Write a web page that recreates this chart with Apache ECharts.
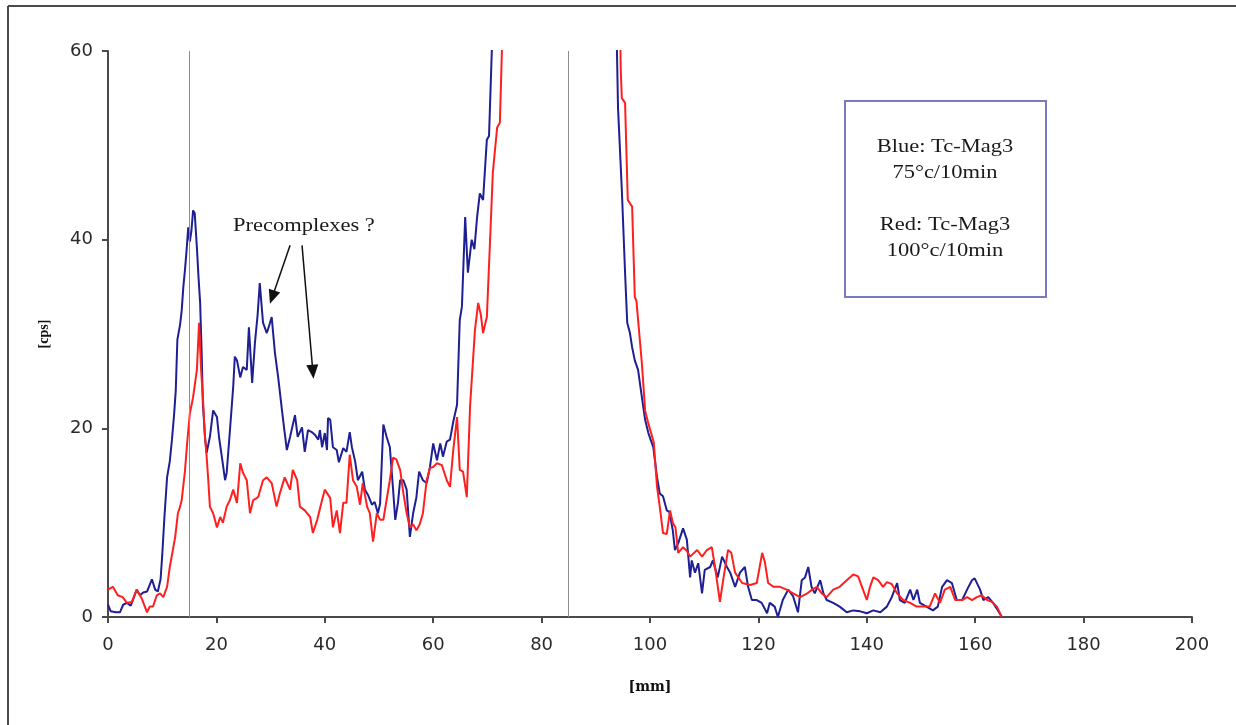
<!DOCTYPE html>
<html>
<head>
<meta charset="utf-8">
<title>Tc-Mag3 radio-TLC scan</title>
<script src="https://cdn.jsdelivr.net/npm/echarts@6/dist/echarts.min.js"></script>
<style>
  html, body { margin: 0; padding: 0; background: #ffffff; }
  #chart { width: 1236px; height: 725px; }
</style>
</head>
<body>
<div id="chart"></div>
<script>
// Axis settings
const xTicks = { min: 0, max: 200, step: 20 };
const yTicks = { min: 0, max: 60, step: 20 };
const xTitle = '[mm]';
const yTitle = '[cps]';

// Reference positions on the strip (mm)
const markerPositions = [15, 85];

// Activity profile, 75°C / 10 min labelling ([mm, cps]; '-' = off scale, above 60 cps)
const blueTrace = [
  [0,1.3],[0.5,0.6],[1.5,0.5],[2.2,0.5],[2.8,1.3],[3.5,1.5],[4.2,1.2],[5.3,2.9],[5.9,2.3],[6.5,2.6],
  [7.2,2.7],[8.1,4.0],[8.7,2.9],[9.2,2.7],[9.7,4.0],[10.0,6.5],[10.4,10.5],[10.9,14.8],[11.4,16.5],[11.8,18.8],
  [12.2,21.5],[12.5,24],[12.8,29.4],[13.3,31],[13.6,32.5],[13.9,35],[14.2,36.8],[14.5,38.9],[14.8,41.3],[15.1,39.8],
  [15.4,41],[15.7,43.1],[16.0,42.8],[16.4,39.2],[16.7,36],[17.0,33.3],[17.3,27.6],[17.5,22.7],[17.9,19],[18.2,17.4],
  [18.8,19.1],[19.4,21.9],[19.7,21.9],[20.1,21.2],[20.5,19],[21.0,17],[21.6,14.5],[21.9,15.3],[22.5,19.8],[23.1,24.4],
  [23.4,27.6],[23.8,27.2],[24.4,25.4],[24.9,26.5],[25.6,26.2],[26.0,30.7],[26.6,24.8],[27.1,29],[27.6,32],[28.0,35.4],
  [28.6,31.2],[29.3,30.1],[29.8,31],[30.2,31.8],[30.8,28],[31.4,25.4],[32.1,21.9],[32.5,20],[33.0,17.7],[33.6,19.1],
  [34.5,21.4],[35.0,19.1],[35.8,20.1],[36.3,17.5],[36.9,19.8],[37.6,19.6],[38.2,19.3],[38.8,18.8],[39.1,19.8],[39.5,18],
  [40.0,19.5],[40.4,17.7],[40.6,21.1],[41.0,20.9],[41.5,18],[42.2,17.7],[42.6,16.4],[43.4,17.9],[44.0,17.5],[44.6,19.6],
  [45.0,18],[45.6,16.5],[46.1,14.5],[46.9,15.4],[47.4,13.5],[48.0,12.9],[48.7,11.9],[49.2,12.2],[49.8,11],[50.2,12],
  [50.8,20.4],[51.4,19.1],[52.0,18],[52.6,13.5],[53.0,10.3],[53.5,12.1],[53.9,14.5],[54.5,14.5],[55.1,13.5],[55.7,8.5],
  [56.3,11],[56.9,12.7],[57.4,15.4],[58.1,14.5],[58.8,14.2],[59.4,15.9],[60.0,18.4],[60.7,16.6],[61.3,18.4],[61.8,17],
  [62.5,18.6],[63.1,18.8],[63.7,20.7],[64.4,22.5],[64.9,31.5],[65.3,32.9],[65.9,42.4],[66.4,36.5],[67.1,40],[67.6,39],
  [68.1,42.4],[68.6,44.9],[69.2,44.2],[69.9,50.6],[70.3,51],[70.8,59.8],[71.2,66],[71.5,'-'],
  [93.5,'-'],[93.7,66],[93.9,60],[94.1,54],[94.8,45.3],[95.4,36.5],[95.8,31.2],[96.3,30.1],[96.7,28.6],[97.2,27.2],
  [97.8,26.2],[98.5,23.3],[99.1,20.9],[99.7,19.5],[100.6,18],[101.3,14.8],[101.8,13.1],[102.4,12.8],[103.1,11.3],[103.6,11.1],
  [104.2,9.2],[104.6,7.1],[105.2,7.8],[106.1,9.4],[106.8,8.2],[107.4,4.2],[107.7,6],[108.3,4.7],[108.9,5.7],[109.6,2.5],
  [110.1,5],[111.1,5.3],[111.6,6],[112.5,4.2],[113.3,6.4],[114.2,5.3],[114.8,4.7],[115.7,3.2],[116.6,4.7],[117.5,5.3],
  [118.1,3.2],[118.8,1.8],[119.7,1.8],[120.6,1.5],[121.6,0.4],[122.1,1.5],[123.0,1.1],[123.6,0],[124.5,1.8],[125.5,2.9],
  [126.4,2.2],[127.3,0.5],[128.0,3.9],[128.6,4.2],[129.2,5.3],[129.8,3.2],[130.4,2.5],[131.4,3.9],[132.0,2.5],[132.6,1.8],
  [133.8,1.5],[135.0,1.1],[136.3,0.5],[137.5,0.7],[138.8,0.6],[140.0,0.4],[141.2,0.7],[142.5,0.5],[143.7,1.1],[144.6,2.1],
  [145.6,3.6],[146.1,1.8],[147.0,1.5],[148.0,2.9],[148.6,1.8],[149.3,2.9],[149.8,1.5],[151.0,1.1],[152.2,0.7],[153.1,1.1],
  [153.9,3.2],[154.8,3.9],[155.7,3.6],[156.6,1.8],[157.6,1.8],[158.5,2.9],[159.4,3.9],[159.9,4.1],[160.9,2.9],[161.5,1.8],
  [162.4,2.1],[163.3,1.5],[164.2,0.7],[164.9,0]
];

// Activity profile, 100°C / 10 min labelling ([mm, cps]; '-' = off scale, above 60 cps)
const redTrace = [
  [0,2.9],[0.9,3.2],[1.8,2.3],[2.7,2.1],[3.5,1.5],[4.4,1.6],[5.3,2.9],[6.2,2.0],[7.2,0.5],[7.7,1.1],
  [8.3,1.1],[9.0,2.3],[9.6,2.5],[10.2,2.1],[10.9,3.2],[11.4,5.3],[12.4,8.5],[12.9,11],[13.3,11.7],[13.6,12.4],
  [14.2,15.5],[14.6,18.4],[15.1,21.6],[15.7,23.3],[16.4,26.2],[16.8,31.2],[17.2,26],[17.5,23.3],[17.9,19.1],[18.2,17],
  [18.5,14.5],[18.8,11.7],[19.4,11],[20.1,9.5],[20.7,10.6],[21.2,10],[21.9,11.7],[22.5,12.4],[23.1,13.5],[23.8,12.1],
  [24.4,16.3],[24.9,15.3],[25.6,14.5],[26.2,11],[26.8,12.4],[27.7,12.7],[28.6,14.5],[29.3,14.8],[30.2,14.2],[31.1,11.7],
  [31.7,13.1],[32.6,14.8],[33.6,13.5],[34.1,15.6],[34.9,14.5],[35.4,11.7],[36.3,11.3],[37.3,10.6],[37.8,8.9],[38.6,10.3],
  [39.5,12.4],[40.0,13.5],[41.0,12.6],[41.5,9.5],[42.2,11.3],[42.8,8.9],[43.4,12.1],[44.0,12.1],[44.6,17.2],[45.2,14.5],
  [45.9,13.8],[46.5,11.9],[47.0,14.2],[47.8,11.7],[48.3,11],[48.9,8],[49.6,11],[50.2,10.3],[50.8,10.3],[51.4,12.4],
  [52.0,14.5],[52.6,16.9],[53.2,16.7],[53.9,15.6],[54.5,13.1],[55.1,11],[55.7,9.5],[56.3,9.8],[56.9,9.2],[57.5,9.8],
  [58.1,11],[58.8,14.5],[59.4,15.8],[60.0,15.9],[60.7,16.3],[61.6,16.1],[62.5,14.5],[63.1,13.8],[63.7,17.7],[64.4,21.2],
  [64.9,15.6],[65.5,15.4],[66.2,12.7],[66.8,22.3],[67.7,30.4],[68.3,33.3],[68.8,32],[69.2,30.1],[69.9,31.8],[70.5,40],
  [71.0,47.1],[71.8,51.9],[72.3,52.4],[72.7,60.5],[73.0,66],[73.2,'-'],
  [94.2,'-'],[94.4,66],[94.6,58],[94.8,55],[95.4,54.5],[95.9,44.2],[96.7,43.5],[97.2,33.9],[97.5,33.5],[98.5,26.9],
  [99.1,21.9],[99.7,20.5],[100.4,19.1],[100.7,18.5],[101.3,13.8],[101.8,11.7],[102.4,8.9],[103.1,8.8],[103.7,11.3],[104.2,10],
  [104.7,9.5],[105.2,6.8],[106.1,7.4],[106.8,7.0],[107.4,6.4],[108.7,7.1],[109.6,6.4],[110.5,7.1],[111.4,7.4],[112.0,5.3],
  [112.9,1.6],[113.5,3.9],[114.4,7.1],[115.0,6.8],[115.7,4.7],[117.0,3.6],[118.5,3.4],[119.7,3.6],[120.7,6.8],[121.2,5.8],
  [121.8,3.6],[122.8,3.2],[124.0,3.2],[125.2,2.9],[126.4,2.5],[127.7,2.1],[129.0,2.5],[129.9,2.9],[130.8,3.2],[131.7,2.5],
  [132.6,2.1],[133.8,2.9],[135.0,3.2],[136.3,3.9],[137.5,4.5],[138.4,4.3],[139.3,2.9],[140.0,1.8],[140.6,3.2],[141.2,4.2],
  [142.1,3.9],[143.0,3.2],[143.7,3.7],[144.6,3.5],[145.6,2.5],[146.7,1.8],[148.0,1.5],[149.2,1.1],[150.4,1.1],[151.6,1.1],
  [152.6,2.5],[153.5,1.5],[154.4,2.9],[155.4,3.2],[156.3,1.8],[157.6,1.8],[158.5,2.1],[159.4,1.8],[160.3,2.1],[161.2,2.3],
  [162.2,1.8],[163.1,1.6],[164.0,1.1],[164.9,0]
];

// Annotation arrows pointing at the precomplex shoulders ([mm, cps] start -> end)
const arrowLines = [
  [[33.6, 39.4], [30.3, 33.9]],
  [[35.8, 39.4], [37.8, 26.0]]
];

const legendLines = ['Blue: Tc-Mag3', '75°c/10min', '', 'Red: Tc-Mag3', '100°c/10min'];
const annotationText = 'Precomplexes ?';

const chart = echarts.init(document.getElementById('chart'), null, { renderer: 'canvas' });

const axisColor = '#4a4a4a';
const serif = '"Liberation Serif", "Times New Roman", serif';
const sans = '"DejaVu Sans", sans-serif';

chart.setOption({
  animation: false,
  backgroundColor: '#ffffff',
  grid: { left: 108, right: 44, top: 51, bottom: 108, containLabel: false },
  xAxis: {
    type: 'value',
    min: xTicks.min, max: xTicks.max, interval: xTicks.step,
    name: xTitle,
    nameLocation: 'middle',
    nameGap: 63,
    nameTextStyle: { fontFamily: '"DejaVu Serif", serif', fontWeight: 'bold', fontSize: 14, color: '#111' },
    axisLine: { show: true, onZero: false, lineStyle: { color: axisColor, width: 2 } },
    axisTick: { show: true, inside: false, length: 6, lineStyle: { color: axisColor, width: 2 } },
    axisLabel: { margin: 19, fontFamily: sans, fontSize: 18, color: '#2a2a2a' },
    splitLine: { show: false }
  },
  yAxis: {
    type: 'value',
    min: yTicks.min, max: yTicks.max, interval: yTicks.step,
    name: yTitle,
    nameLocation: 'middle',
    nameGap: 57,
    nameRotate: 90,
    nameTextStyle: { fontFamily: serif, fontWeight: 'bold', fontSize: 14, color: '#111' },
    axisLine: { show: true, onZero: false, lineStyle: { color: axisColor, width: 2 } },
    axisTick: { show: true, inside: false, length: 6, lineStyle: { color: axisColor, width: 2 } },
    axisLabel: { margin: 15, fontFamily: sans, fontSize: 18, color: '#2a2a2a' },
    splitLine: { show: false }
  },
  series: [
    {
      name: 'markers',
      type: 'line',
      data: [],
      silent: true,
      markLine: {
        silent: true,
        symbol: ['none', 'none'],
        label: { show: false },
        lineStyle: { color: '#8c8c8c', width: 1, type: 'solid' },
        data: markerPositions.map(v => ({ xAxis: v }))
      }
    },
    {
      name: 'Blue: Tc-Mag3 75°c/10min',
      type: 'line',
      data: blueTrace,
      showSymbol: false,
      connectNulls: false,
      clip: true,
      lineStyle: { color: '#1f1f94', width: 2 },
      itemStyle: { color: '#1f1f94' }
    },
    {
      name: 'Red: Tc-Mag3 100°c/10min',
      type: 'line',
      data: redTrace,
      showSymbol: false,
      connectNulls: false,
      clip: true,
      lineStyle: { color: '#ff1f1f', width: 2 },
      itemStyle: { color: '#ff1f1f' }
    },
    {
      name: 'arrows',
      type: 'line',
      data: [],
      silent: true,
      markLine: {
        silent: true,
        symbol: ['none', 'triangle'],
        symbolSize: [12, 14],
        label: { show: false },
        lineStyle: { color: '#111111', width: 1.5, type: 'solid' },
        itemStyle: { color: '#111111' },
        data: arrowLines.map(([a, b]) => [{ coord: a }, { coord: b }])
      }
    }
  ],
  graphic: [
    // page frame
    { type: 'line', silent: true, shape: { x1: 8, y1: 6, x2: 1236, y2: 6 }, style: { stroke: '#4a4a4a', lineWidth: 2 } },
    { type: 'line', silent: true, shape: { x1: 8, y1: 6, x2: 8, y2: 725 }, style: { stroke: '#4a4a4a', lineWidth: 2 } },
    // legend box
    {
      type: 'rect', silent: true,
      shape: { x: 845, y: 101, width: 201, height: 196 },
      style: { fill: '#ffffff', stroke: '#7a7ac2', lineWidth: 2 }
    },
    {
      type: 'text', silent: true,
      x: 945, y: 134, scaleX: 1.25,
      style: {
        text: legendLines.join('\n'),
        font: '18px ' + serif,
        fill: '#1a1a1a',
        align: 'center',
        verticalAlign: 'top',
        lineHeight: 26
      }
    },
    {
      type: 'text', silent: true,
      x: 233, y: 226, scaleX: 1.25,
      style: {
        text: annotationText,
        font: '18px ' + serif,
        fill: '#1a1a1a',
        align: 'left',
        verticalAlign: 'middle'
      }
    }
  ]
});
</script>
</body>
</html>
